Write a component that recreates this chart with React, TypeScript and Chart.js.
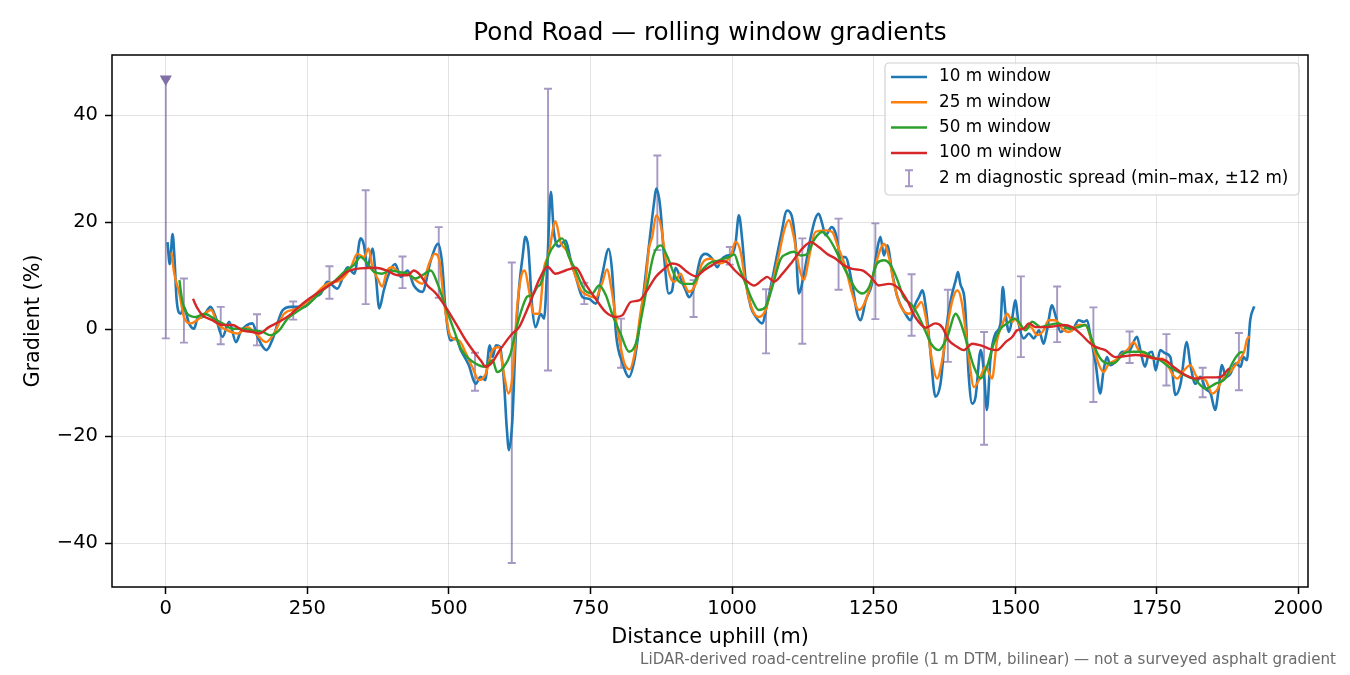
import { useEffect, useRef } from 'react';
import { Chart } from 'chart.js/auto';
import type { ChartConfiguration, Plugin } from 'chart.js';

// Pond Road rolling-window gradient profile, matplotlib look-alike.
// Each series is a list of [distance uphill (m), gradient (%)] pairs.

const FONT = '"DejaVu Sans", "Liberation Sans", sans-serif';

const titleText = 'Pond Road — rolling window gradients';
const footerText =
  'LiDAR-derived road-centreline profile (1 m DTM, bilinear) — not a surveyed asphalt gradient';
const xTitle = 'Distance uphill (m)';
const yTitle = 'Gradient (%)';

const distTicks = [0, 250, 500, 750, 1000, 1250, 1500, 1750, 2000];
const gradTicks = [-40, -20, 0, 20, 40];

const seriesLabels = ['10 m window', '25 m window', '50 m window', '100 m window'];
const spreadLabel = '2 m diagnostic spread (min–max, ±12 m)';

const win10: [number, number][] = [
  [3, 16.3], [7, 12.2], [12, 17.8], [15, 14.0], [19, 5.7], [26, 2.9], [32, 4.2], [41, 1.1],
  [50, 0.1], [56, 2.0], [65, 2.3], [79, 4.2], [88, 2.3], [100, -1.4], [112, 1.4], [124, -2.4],
  [132, -0.5], [153, 1.1], [162, -1.4], [178, -3.9], [188, -2.0], [206, 3.5], [221, 4.2],
  [244, 4.2], [262, 6.0], [274, 6.7], [285, 8.9], [303, 7.6], [321, 11.6], [333, 10.4],
  [344, 17.0], [350, 15.7], [356, 11.5], [365, 15.1], [371, 9.8], [377, 3.9], [385, 7.3],
  [394, 10.4], [405, 12.2], [415, 9.8], [427, 11.0], [438, 8.2], [453, 7.0], [468, 12.9],
  [481, 16.0], [488, 12.3], [494, 3.6], [503, -2.1], [512, -1.7], [521, -3.9], [535, -6.7],
  [547, -10.2], [556, -8.9], [564, -9.5], [572, -3.0], [577, -5.2], [583, -3.0], [590, -3.3],
  [597, -9.5], [602, -18.3], [606, -22.6], [612, -17.0], [618, -1.4], [624, 7.9], [630, 13.5],
  [635, 17.3], [640, 15.4], [647, 4.2], [653, 0.4], [662, 2.9], [668, 2.0], [674, 12.9],
  [680, 25.7], [685, 18.5], [694, 15.5], [706, 16.6], [715, 13.0], [724, 9.8], [736, 6.0],
  [747, 5.7], [759, 4.8], [771, 10.4], [782, 15.0], [788, 11.0], [795, -0.8], [807, -6.4],
  [818, -8.9], [828, -5.5], [840, 3.5], [852, 14.5], [862, 23.5], [866, 26.3], [873, 23.0],
  [880, 13.5], [888, 6.7], [894, 7.2], [900, 11.5], [909, 9.5], [918, 7.3], [924, 6.0],
  [933, 7.9], [944, 13.2], [953, 14.1], [965, 13.2], [974, 11.6], [980, 12.9], [991, 13.8],
  [1000, 14.1], [1006, 16.0], [1012, 21.3], [1018, 16.6], [1024, 9.2], [1033, 4.2],
  [1042, 2.3], [1053, 1.1], [1062, 4.8], [1074, 11.0], [1086, 17.3], [1097, 22.2],
  [1105, 21.3], [1112, 16.0], [1118, 6.7], [1127, 10.4], [1139, 17.3], [1147, 20.7],
  [1153, 21.6], [1159, 19.8], [1165, 17.6], [1176, 19.1], [1183, 17.9], [1192, 13.5],
  [1200, 13.5], [1212, 8.5], [1221, 2.9], [1227, 1.7], [1236, 5.4], [1247, 8.5], [1256, 14.8],
  [1262, 17.3], [1268, 13.8], [1274, 15.7], [1283, 10.4], [1292, 6.0], [1306, 2.9],
  [1315, 1.7], [1324, 4.8], [1330, 6.0], [1336, 7.3], [1342, 4.2], [1350, -3.9], [1359, -12.6],
  [1368, -10.2], [1377, -0.8], [1386, 5.4], [1395, 9.2], [1399, 10.7], [1403, 8.5], [1411, 5.1],
  [1418, -8.9], [1424, -13.9], [1430, -12.6], [1439, -3.9], [1445, -8.3], [1450, -15.1],
  [1456, -5.8], [1465, -0.8], [1474, 1.1], [1478, 7.9], [1483, 2.9], [1489, -0.5], [1495, 2.3],
  [1500, 5.4], [1506, 1.1], [1515, -1.7], [1524, -0.8], [1533, -1.7], [1542, -0.2], [1550, -2.7],
  [1556, -0.2], [1565, 4.5], [1571, 2.6], [1580, -0.5], [1592, 0.4], [1600, -0.2], [1612, 1.7],
  [1621, 1.4], [1627, 1.7], [1633, -1.4], [1642, -6.4], [1650, -12.0], [1656, -7.7],
  [1662, -5.2], [1668, -6.7], [1677, -6.1], [1689, -4.2], [1700, -4.2], [1715, -1.4],
  [1721, -3.9], [1729, -7.0], [1736, -4.5], [1742, -4.2], [1748, -7.7], [1756, -3.9],
  [1765, -4.5], [1774, -5.2], [1783, -12.3], [1792, -10.2], [1803, -2.4], [1809, -6.4],
  [1818, -10.2], [1827, -8.9], [1836, -11.1], [1845, -12.0], [1853, -15.1], [1859, -11.4],
  [1865, -6.7], [1872, -8.9], [1880, -8.3], [1889, -6.4], [1898, -7.0], [1903, -5.2],
  [1909, -5.8], [1915, 1.7], [1922, 4.3],
];

const win25: [number, number][] = [
  [10, 14.4], [15, 10.4], [24, 6.7], [32, 2.3], [44, 1.1], [59, 2.0], [80, 3.6], [91, 1.1],
  [109, -0.2], [127, -0.8], [144, 0.4], [159, -0.8], [177, -2.4], [191, -0.8], [209, 2.9],
  [233, 3.9], [256, 5.7], [285, 8.5], [309, 9.2], [327, 11.6], [338, 14.1], [350, 13.5],
  [358, 15.1], [365, 11.6], [374, 9.5], [382, 8.0], [391, 11.0], [400, 11.6], [412, 10.7],
  [427, 10.4], [441, 9.2], [453, 8.5], [465, 12.3], [475, 14.1], [483, 12.9], [491, 5.4],
  [503, -1.4], [518, -2.1], [530, -4.5], [541, -7.0], [553, -9.5], [565, -8.3], [577, -3.9],
  [588, -3.3], [597, -8.3], [605, -12.0], [612, -8.9], [621, 4.8], [630, 10.7], [634, 11.0],
  [641, 7.5], [650, 2.9], [659, 2.9], [668, 11.5], [676, 14.0], [688, 20.2], [697, 16.3],
  [709, 14.5], [722, 10.4], [733, 7.3], [744, 6.4], [759, 5.9], [771, 8.8], [779, 11.2],
  [787, 7.5], [797, 0.5], [809, -6.1], [819, -7.5], [828, -4.5], [839, 3.6], [847, 8.5],
  [853, 15.0], [859, 17.3], [866, 21.3], [874, 19.5], [883, 13.0], [892, 9.5], [898, 8.9],
  [903, 9.5], [909, 10.4], [918, 7.9], [924, 7.0], [936, 8.5], [947, 12.3], [962, 13.2],
  [977, 12.3], [991, 12.9], [998, 13.8], [1006, 16.4], [1015, 14.5], [1024, 8.5], [1036, 3.6],
  [1047, 2.3], [1059, 3.6], [1071, 8.5], [1083, 14.1], [1092, 18.5], [1100, 20.4], [1109, 17.3],
  [1118, 11.7], [1127, 9.2], [1136, 13.5], [1147, 18.2], [1165, 18.5], [1177, 18.2],
  [1186, 15.7], [1200, 11.7], [1212, 6.7], [1224, 3.6], [1236, 5.4], [1247, 9.2], [1259, 14.1],
  [1268, 16.0], [1277, 13.5], [1286, 8.5], [1297, 4.5], [1312, 2.9], [1327, 4.2], [1334, 5.1],
  [1342, 2.3], [1353, -5.8], [1362, -9.2], [1371, -5.8], [1380, 0.4], [1389, 5.4], [1398, 7.3],
  [1406, 4.8], [1418, -5.2], [1427, -10.8], [1436, -9.5], [1448, -7.0], [1459, -9.2],
  [1468, -2.0], [1477, 0.8], [1486, 2.9], [1495, 1.4], [1500, 2.0], [1512, 0.1], [1527, 0.4],
  [1539, -1.1], [1550, -0.2], [1559, 1.7], [1571, 1.7], [1583, 0.1], [1595, -0.5], [1612, 0.8],
  [1624, 0.8], [1636, -2.7], [1648, -6.7], [1656, -8.0], [1665, -6.5], [1677, -5.8],
  [1686, -4.9], [1700, -3.6], [1709, -2.4], [1718, -3.9], [1730, -4.9], [1745, -5.5],
  [1759, -5.5], [1768, -6.4], [1777, -8.3], [1786, -9.2], [1798, -7.7], [1809, -6.7],
  [1821, -8.9], [1836, -9.5], [1848, -12.0], [1856, -11.4], [1865, -9.5], [1877, -8.3],
  [1889, -6.7], [1898, -5.5], [1905, -3.9], [1909, -2.0], [1914, -1.3],
];

const win50: [number, number][] = [
  [24, 9.2], [29, 5.4], [38, 2.9], [53, 2.3], [68, 2.9], [85, 2.0], [100, 1.1], [118, 0.1],
  [135, 0.1], [153, -0.2], [171, -0.5], [185, -1.1], [200, -0.2], [215, 2.0], [230, 3.2],
  [253, 4.8], [277, 7.3], [300, 9.2], [318, 11.0], [332, 12.0], [344, 13.5], [356, 12.3],
  [368, 10.7], [382, 10.4], [397, 11.0], [412, 10.7], [427, 10.4], [441, 9.5], [453, 10.1],
  [468, 11.0], [480, 8.5], [494, 4.2], [509, -0.2], [521, -3.6], [535, -5.5], [547, -6.4],
  [562, -7.0], [577, -5.8], [585, -8.0], [597, -7.0], [609, -4.5], [618, -0.2], [630, 4.2],
  [638, 6.1], [647, 6.4], [656, 7.9], [662, 8.5], [677, 14.1], [688, 16.0], [700, 17.0],
  [712, 13.5], [724, 11.0], [738, 7.6], [753, 6.7], [765, 8.2], [777, 6.4], [788, 2.9],
  [803, -0.8], [818, -4.2], [830, -2.7], [841, 2.9], [853, 9.8], [862, 14.1], [874, 15.7],
  [886, 13.5], [900, 9.8], [915, 8.5], [930, 8.5], [944, 10.7], [959, 12.3], [977, 12.9],
  [994, 13.5], [1004, 14.0], [1012, 11.7], [1024, 8.5], [1036, 5.4], [1047, 3.6], [1059, 4.2],
  [1071, 7.9], [1086, 13.2], [1097, 14.1], [1109, 14.5], [1121, 13.8], [1133, 14.1],
  [1144, 16.6], [1159, 18.2], [1171, 17.0], [1183, 14.8], [1194, 12.3], [1206, 9.8],
  [1218, 7.6], [1230, 6.7], [1242, 7.9], [1256, 12.3], [1268, 12.9], [1280, 12.0], [1292, 9.2],
  [1303, 6.0], [1318, 4.5], [1330, 2.3], [1342, -0.5], [1352, -2.8], [1365, -3.9], [1380, -1.4],
  [1395, 2.9], [1403, 1.4], [1415, -2.7], [1427, -7.0], [1439, -9.2], [1450, -7.0],
  [1462, -2.7], [1474, 0.1], [1486, 1.1], [1498, 2.0], [1506, 1.4], [1518, -0.2], [1530, 1.4],
  [1545, 0.4], [1559, 0.8], [1577, 1.1], [1595, 0.1], [1612, 0.4], [1624, 0.8], [1636, -2.1],
  [1645, -4.5], [1653, -5.8], [1665, -6.4], [1677, -6.2], [1692, -4.5], [1709, -4.2],
  [1724, -4.2], [1742, -5.2], [1756, -5.8], [1771, -7.0], [1789, -8.0], [1806, -8.9],
  [1818, -9.5], [1836, -11.1], [1853, -10.2], [1871, -9.2], [1883, -6.4], [1895, -4.5],
  [1902, -4.2],
];

const win100: [number, number][] = [
  [48, 5.7], [56, 3.9], [65, 2.6], [82, 1.7], [100, 0.8], [118, 0.8], [135, -0.2], [153, -0.5],
  [165, -0.8], [182, 0.4], [200, 1.4], [218, 2.6], [235, 4.2], [253, 5.7], [271, 7.0],
  [288, 8.2], [306, 9.5], [321, 10.8], [344, 11.4], [370, 11.5], [390, 11.0], [410, 10.1],
  [427, 10.1], [438, 11.0], [447, 10.4], [462, 8.2], [477, 6.7], [494, 4.2], [512, 1.1],
  [530, -2.1], [544, -4.2], [556, -5.8], [565, -7.0], [577, -6.1], [588, -4.2], [600, -2.4],
  [612, -0.8], [624, 0.4], [635, 2.9], [647, 6.0], [659, 9.2], [674, 11.7], [688, 10.4],
  [706, 11.0], [724, 11.5], [741, 8.5], [759, 5.7], [777, 3.2], [794, 2.3], [806, 2.6],
  [821, 5.1], [836, 5.4], [850, 7.3], [865, 9.8], [880, 11.3], [894, 12.3], [906, 12.0],
  [921, 10.7], [936, 9.9], [950, 11.0], [965, 12.0], [980, 12.8], [992, 12.5], [1006, 10.9],
  [1024, 9.2], [1039, 8.2], [1053, 9.2], [1062, 9.8], [1074, 8.9], [1089, 10.4], [1106, 12.6],
  [1124, 15.1], [1139, 16.3], [1153, 15.4], [1168, 14.1], [1183, 13.2], [1197, 12.0],
  [1212, 11.3], [1230, 11.0], [1245, 9.8], [1259, 8.2], [1277, 8.5], [1295, 7.6], [1309, 5.4],
  [1324, 2.2], [1342, 0.3], [1359, 1.1], [1371, 0.4], [1383, -2.1], [1398, -3.3], [1409, -3.9],
  [1424, -2.7], [1439, -3.0], [1453, -3.6], [1468, -3.9], [1483, -2.4], [1495, -1.4],
  [1503, -0.2], [1515, 0.1], [1524, 1.1], [1536, 0.4], [1553, 0.4], [1571, 0.6], [1586, 0.8],
  [1600, 0.4], [1615, -0.8], [1630, -2.4], [1642, -3.3], [1659, -3.9], [1677, -5.2],
  [1695, -5.0], [1712, -4.8], [1730, -5.0], [1748, -5.5], [1765, -5.8], [1783, -7.3],
  [1801, -8.6], [1818, -9.2], [1836, -9.0], [1854, -9.0], [1865, -8.8], [1874, -7.7],
  [1878, -7.3],
];

// 2 m diagnostic spread: min/max over ±12 m, sampled every ~64 m
const spreadDist = [0, 32, 97, 161, 225, 289, 353, 418, 482, 546, 611, 675, 739, 804, 868, 932,
  996, 1060, 1124, 1188, 1253, 1317, 1381, 1445, 1510, 1574, 1638, 1702, 1767, 1831, 1895];
const spreadLo = [-1.7, -2.5, -2.8, -3.0, 1.8, 5.7, 4.7, 7.7, 5.9, -11.5, -43.7, -7.7, 4.7, -7.2,
  14.8, 2.3, 12.1, -4.5, -2.7, 7.4, 1.9, -1.2, -6.1, -21.6, -5.2, -2.4, -13.6, -6.3, -10.5,
  -12.7, -11.4];
const spreadHi = [46.8, 9.5, 4.2, 2.8, 5.2, 11.8, 26.0, 13.6, 19.1, -4.4, 12.5, 45.0, 8.7, 2.0,
  32.5, 9.2, 15.4, 7.5, 17.0, 20.7, 19.8, 10.3, 7.4, -0.5, 9.9, 8.0, 4.1, -0.4, -0.9, -7.2,
  -0.7];

// spread top that runs off the useful range at the start of the climb
const clippedDist = [0];
const clippedGrad = [46.8];

const seriesColors = ['#1f77b4', '#ff7f0e', '#2ca02c', '#d62728'];
const SPREAD_COLOR = 'rgba(100, 78, 150, 0.58)';
const MARKER_COLOR = '#8070a6';

const toPoints = (pairs: [number, number][]) => pairs.map(([x, y]) => ({ x, y }));
const fmtTick = (v: number | string) => String(v).replace('-', '\u2212');

const spreadBars: Plugin<'line'> = {
  id: 'spreadBars',
  beforeDatasetsDraw(chart) {
    const { ctx, chartArea, scales } = chart;
    const x = scales.x;
    const y = scales.y;
    ctx.save();
    ctx.beginPath();
    ctx.rect(chartArea.left, chartArea.top, chartArea.width, chartArea.height);
    ctx.clip();
    ctx.strokeStyle = SPREAD_COLOR;
    ctx.lineWidth = 1.9;
    spreadDist.forEach((d, i) => {
      const px = x.getPixelForValue(d);
      const lo = y.getPixelForValue(spreadLo[i]);
      const hi = y.getPixelForValue(spreadHi[i]);
      ctx.beginPath();
      ctx.moveTo(px, lo);
      ctx.lineTo(px, hi);
      ctx.moveTo(px - 4, lo);
      ctx.lineTo(px + 4, lo);
      ctx.moveTo(px - 4, hi);
      ctx.lineTo(px + 4, hi);
      ctx.stroke();
    });
    ctx.restore();
  },
};

// frame, title, legend and footnote drawn the way matplotlib lays them out
const decorations: Plugin<'line'> = {
  id: 'decorations',
  afterDraw(chart) {
    const { ctx, chartArea, width } = chart;
    const { left, right, top, bottom } = chartArea;
    ctx.save();

    ctx.strokeStyle = '#000';
    ctx.lineWidth = 1.5;
    ctx.strokeRect(left, top, right - left, bottom - top);

    ctx.fillStyle = '#000';
    ctx.font = `24.7px ${FONT}`;
    ctx.textAlign = 'center';
    ctx.textBaseline = 'middle';
    ctx.fillText(titleText, (left + right) / 2, 34);

    ctx.fillStyle = '#6a6a6a';
    ctx.font = `15.1px ${FONT}`;
    ctx.textAlign = 'right';
    ctx.fillText(footerText, width - 14, 660);

    // legend
    const boxW = 414;
    const boxH = 132;
    const bx = right - 9 - boxW;
    const by = top + 8;
    ctx.beginPath();
    ctx.roundRect(bx, by, boxW, boxH, 4);
    ctx.fillStyle = 'rgba(255,255,255,0.8)';
    ctx.fill();
    ctx.strokeStyle = '#d0d0d0';
    ctx.lineWidth = 1.2;
    ctx.stroke();

    ctx.font = `16.8px ${FONT}`;
    ctx.textAlign = 'left';
    const rowY = (i: number) => by + 14 + i * 25.3;
    seriesLabels.forEach((label, i) => {
      ctx.strokeStyle = seriesColors[i];
      ctx.lineWidth = 2.5;
      ctx.beginPath();
      ctx.moveTo(bx + 6, rowY(i));
      ctx.lineTo(bx + 42, rowY(i));
      ctx.stroke();
      ctx.fillStyle = '#000';
      ctx.fillText(label, bx + 54, rowY(i));
    });
    const ey = rowY(4);
    const ex = bx + 24;
    ctx.strokeStyle = SPREAD_COLOR;
    ctx.lineWidth = 1.9;
    ctx.beginPath();
    ctx.moveTo(ex, ey - 8);
    ctx.lineTo(ex, ey + 8);
    ctx.moveTo(ex - 4, ey - 8);
    ctx.lineTo(ex + 4, ey - 8);
    ctx.moveTo(ex - 4, ey + 8);
    ctx.lineTo(ex + 4, ey + 8);
    ctx.stroke();
    ctx.fillStyle = '#000';
    ctx.fillText(spreadLabel, bx + 54, ey);

    ctx.restore();
  },
};

export default function App() {
  const canvasRef = useRef<HTMLCanvasElement>(null);

  useEffect(() => {
    const canvas = canvasRef.current;
    if (!canvas) return;

    const lineSet = (label: string, pairs: [number, number][], i: number, order: number) => ({
      label,
      data: toPoints(pairs),
      borderColor: seriesColors[i],
      backgroundColor: seriesColors[i],
      borderWidth: i === 0 ? 2.6 : 2.4,
      pointRadius: 0,
      cubicInterpolationMode: 'monotone' as const,
      fill: false,
      order,
    });

    const config: ChartConfiguration<'line'> = {
      type: 'line',
      data: {
        datasets: [
          lineSet(seriesLabels[0], win10, 0, 5),
          lineSet(seriesLabels[1], win25, 1, 4),
          lineSet(seriesLabels[2], win50, 2, 3),
          lineSet(seriesLabels[3], win100, 3, 2),
          {
            label: 'clipped',
            data: clippedDist.map((x, i) => ({ x, y: clippedGrad[i] })),
            showLine: false,
            pointStyle: 'triangle',
            rotation: 180,
            pointRadius: 7,
            pointBackgroundColor: MARKER_COLOR,
            pointBorderWidth: 0,
            order: 1,
          },
        ],
      },
      options: {
        animation: false,
        responsive: true,
        maintainAspectRatio: false,
        events: [],
        layout: { padding: { top: 55, right: 42, left: 0, bottom: 0 } },
        plugins: {
          legend: { display: false },
          tooltip: { enabled: false },
          title: { display: false },
        },
        scales: {
          x: {
            type: 'linear',
            min: -95,
            max: 2017,
            afterBuildTicks: (s) => {
              s.ticks = distTicks.map((value) => ({ value }));
            },
            afterFit: (s) => {
              s.height = 88;
            },
            border: { display: false },
            grid: {
              color: 'rgba(0,0,0,0.11)',
              lineWidth: 1,
              tickColor: '#000',
              tickLength: 7,
              tickWidth: 1.5,
            },
            ticks: {
              color: '#000',
              font: { family: FONT, size: 19.5 },
              padding: 3,
              maxRotation: 0,
              callback: (v) => fmtTick(v),
            },
            title: {
              display: true,
              text: xTitle,
              color: '#000',
              font: { family: FONT, size: 20.8 },
              padding: { top: 2, bottom: 24.5 },
            },
          },
          y: {
            type: 'linear',
            min: -48.2,
            max: 51.3,
            afterBuildTicks: (s) => {
              s.ticks = gradTicks.map((value) => ({ value }));
            },
            afterFit: (s) => {
              s.width = 112;
            },
            border: { display: false },
            grid: {
              color: 'rgba(0,0,0,0.11)',
              lineWidth: 1,
              tickColor: '#000',
              tickLength: 7,
              tickWidth: 1.5,
            },
            ticks: {
              color: '#000',
              font: { family: FONT, size: 19.5 },
              padding: 7,
              callback: (v) => fmtTick(v),
            },
            title: {
              display: true,
              text: yTitle,
              color: '#000',
              font: { family: FONT, size: 20.8 },
              padding: { top: 21.5, bottom: 2 },
            },
          },
        },
      },
      plugins: [spreadBars, decorations],
    };

    const chart = new Chart(canvas, config);
    return () => chart.destroy();
  }, []);

  return (
    <div
      style={{
        position: 'fixed',
        left: 0,
        top: 0,
        width: 1350,
        height: 675,
        background: '#fff',
      }}
    >
      <canvas ref={canvasRef} />
    </div>
  );
}
